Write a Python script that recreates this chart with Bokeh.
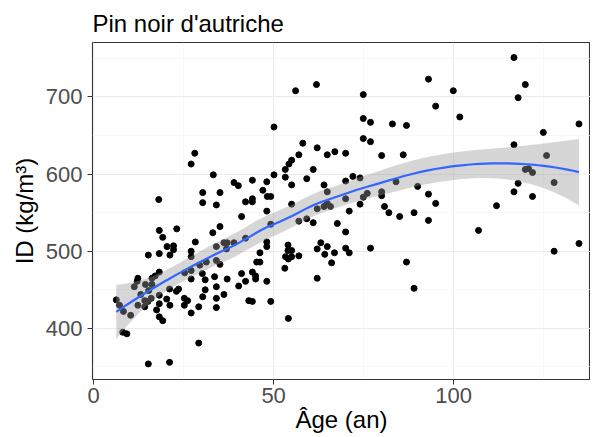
import numpy as np
from bokeh.plotting import figure
from bokeh.models import Range1d, FixedTicker, ColumnDataSource
from bokeh.embed import file_html
from bokeh.resources import INLINE

title_text = "Pin noir d'autriche"
x_label = "Âge (an)"
y_label = "ID (kg/m³)"
x_ticks = [0, 50, 100]
x_minor = [25, 75, 125]
y_ticks = [400, 500, 600, 700]
y_minor = [350, 450, 550, 650, 750]

age = [
    18.1, 30.3, 30.3, 34.1, 18.25, 19.2, 23.1, 33.1, 28.25, 20.4, 22.2, 22.2, 21.2, 18.25, 15.2,
    27.1, 27.1, 34.1, 34.1, 31.3, 29.5, 27.1, 25.3, 18.25, 17.1, 16.2, 12.3, 12.1, 11.3, 14.4,
    16.2, 15.3, 30.2, 31.0, 33.6, 34.1, 27.1, 31.0, 23.6, 23.0, 21.1, 18.25, 20.3, 21.2, 18.25,
    17.5, 18.25, 19.2, 16.0, 15.1, 14.2, 14.2, 12.3, 13.1, 10.3, 8.3, 7.2, 6.3, 8.1, 9.25,
    25.2, 26.1, 25.2, 27.1, 29.2, 30.3, 34.1, 34.1, 29.2, 15.2, 21.1,
    28.1, 27.1,
    58.1, 62.1, 64.9, 67.0, 57.0, 55.0, 54.25, 53.25, 61.0, 50.1, 53.25, 59.2, 55.0, 64.0, 64.9,
    33.25, 39.0, 40.2, 44.1, 48.1, 47.0, 48.25, 49.2, 35.1, 42.2, 44.1, 44.1, 48.1, 55.0, 41.1,
    35.1, 49.2, 57.0, 59.2, 61.0, 62.1, 64.0, 64.9, 65.8, 67.7, 36.2, 37.1, 39.0, 36.9, 42.2,
    48.1, 48.1, 46.2, 45.3, 46.2, 54.0, 55.0, 54.0, 53.3, 55.0, 57.0, 54.1, 53.1, 62.1, 63.1,
    64.9, 66.9, 64.2, 66.1, 62.1, 35.1, 37.1, 41.1, 42.2, 44.1, 45.0, 45.0, 40.3, 48.1, 36.2,
    43.1, 44.1, 49.2, 54.1,
    56.1, 61.9, 50.1,
    93.0, 99.9, 74.9, 95.0, 101.7, 74.9, 76.9, 83.0, 86.9, 74.9, 76.9, 70.0, 80.0, 86.0, 72.0,
    74.0, 70.0, 84.0, 90.0, 70.0, 74.9, 76.0, 80.0, 80.0, 74.0, 80.8, 82.0, 85.0, 89.0, 93.0,
    95.0, 93.0, 71.0, 70.0, 70.0, 71.0, 76.9, 86.9, 89.0,
    116.75, 119.9, 117.9, 134.8, 124.9, 116.75, 125.8, 119.9, 120.8, 121.9, 127.9, 117.9, 116.75,
    121.9, 111.9, 106.9, 127.9, 134.8,
]

density = [
    567, 576, 563, 560, 527, 518, 529, 524, 512, 506, 507, 502, 495, 497, 495,
    500, 493, 506, 488, 486, 482, 475, 472, 473, 468, 465, 465, 461, 454, 457,
    457, 449, 471, 463, 467, 454, 464, 450, 451, 448, 451, 443, 438, 430, 432,
    424, 415, 410, 439, 435, 436, 428, 430, 444, 417, 422, 430, 437, 395, 393,
    439, 436, 430, 420, 428, 441, 439, 427, 381, 354, 356,
    627, 613,
    640, 634, 625, 629, 625, 618, 613, 606, 606, 599, 596, 594, 586, 586, 577,
    599, 589, 585, 592, 590, 579, 571, 571, 576, 564, 568, 564, 552, 561, 545,
    532, 535, 539, 542, 537, 555, 558, 562, 558, 536, 511, 511, 511, 503, 517,
    512, 506, 498, 486, 486, 508, 501, 501, 493, 493, 494, 490, 478, 503, 511,
    506, 498, 496, 485, 465, 483, 464, 471, 461, 473, 468, 464, 455, 461, 444,
    436, 435, 435, 413,
    708, 716, 661,
    723, 708, 703, 688, 674, 672, 667, 665, 663, 646, 642, 627, 624, 625, 597,
    595, 591, 590, 584, 568, 570, 575, 577, 572, 561, 558, 550, 545, 550, 574,
    562, 540, 552, 525, 504, 498, 504, 486, 452,
    751, 716, 699, 665, 654, 638, 624, 606, 607, 602, 589, 588, 577,
    571, 559, 527, 500, 510,
]

# loess smooth (span 0.75, local quadratic, tricube weights) with 95% band
xa = np.array(age, dtype=float)
ya = np.array(density, dtype=float)
n = len(xa)
span = 0.75
q = int(np.floor(n * span))


def loess_row(x0):
    d = np.abs(xa - x0)
    h = np.sort(d)[q - 1]
    u = np.clip(d / h, 0, 1)
    w = (1 - u ** 3) ** 3
    X = np.column_stack([np.ones(n), xa - x0, (xa - x0) ** 2])
    XtW = X.T * w
    A = np.linalg.solve(XtW @ X, XtW)
    return A[0]


L = np.array([loess_row(v) for v in xa])
res = ya - L @ ya
IL = np.eye(n) - L
M = IL.T @ IL
delta1 = np.trace(M)
sigma = np.sqrt(res @ res / delta1)
xg = np.linspace(xa.min(), xa.max(), 80)
Lg = np.array([loess_row(v) for v in xg])
fit = Lg @ ya
se = sigma * np.sqrt((Lg ** 2).sum(axis=1))
tq = 1.97
lower = fit - tq * se
upper = fit + tq * se

p = figure(width=590, height=435, output_backend="svg", toolbar_location=None,
           x_range=Range1d(-0.3, 138.0), y_range=Range1d(333.8, 770.5),
           min_border_left=92, min_border_right=0, min_border_top=42, min_border_bottom=56,
           background_fill_color="white", border_fill_color="white")

p.title.text = title_text
p.title.text_font = "Liberation Sans"
p.title.text_font_size = "24px"
p.title.text_font_style = "normal"
p.title.text_color = "black"
p.title.align = "left"
p.title.offset = 0
p.title.standoff = 12

p.outline_line_color = "#333333"
p.outline_line_width = 1.1
p.outline_line_alpha = 1

for ax in (p.xaxis[0], p.yaxis[0]):
    ax.axis_line_color = None
    ax.major_tick_line_color = "#333333"
    ax.major_tick_out = 5
    ax.major_tick_in = 0
    ax.minor_tick_line_color = None
    ax.major_label_text_font = "Liberation Sans"
    ax.major_label_text_font_size = "22px"
    ax.major_label_text_color = "#4D4D4D"
    ax.axis_label_text_font = "Liberation Sans"
    ax.axis_label_text_font_size = "24px"
    ax.axis_label_text_font_style = "normal"
    ax.axis_label_text_color = "black"

p.xaxis.axis_label = x_label
p.yaxis.axis_label = y_label
p.xaxis.ticker = FixedTicker(ticks=x_ticks, minor_ticks=x_minor)
p.yaxis.ticker = FixedTicker(ticks=y_ticks, minor_ticks=y_minor)
p.xaxis.major_label_standoff = 3
p.yaxis.major_label_standoff = 5
p.xaxis.axis_label_standoff = 0
p.yaxis.axis_label_standoff = 5

for g in (p.xgrid[0], p.ygrid[0]):
    g.grid_line_color = "#EBEBEB"
    g.grid_line_width = 1.1
    g.minor_grid_line_color = "#F3F3F3"
    g.minor_grid_line_width = 0.6

src = ColumnDataSource(dict(x=age, y=density))
p.scatter("x", "y", source=src, size=6, color="black", line_color="black")

band = ColumnDataSource(dict(x=xg, lo=lower, hi=upper, fit=fit))
p.varea(x="x", y1="lo", y2="hi", source=band, fill_color="#999999", fill_alpha=0.4)
p.line("x", "fit", source=band, line_color="#3366FF", line_width=2.2)

open("out.html", "w").write(file_html(p, INLINE))
